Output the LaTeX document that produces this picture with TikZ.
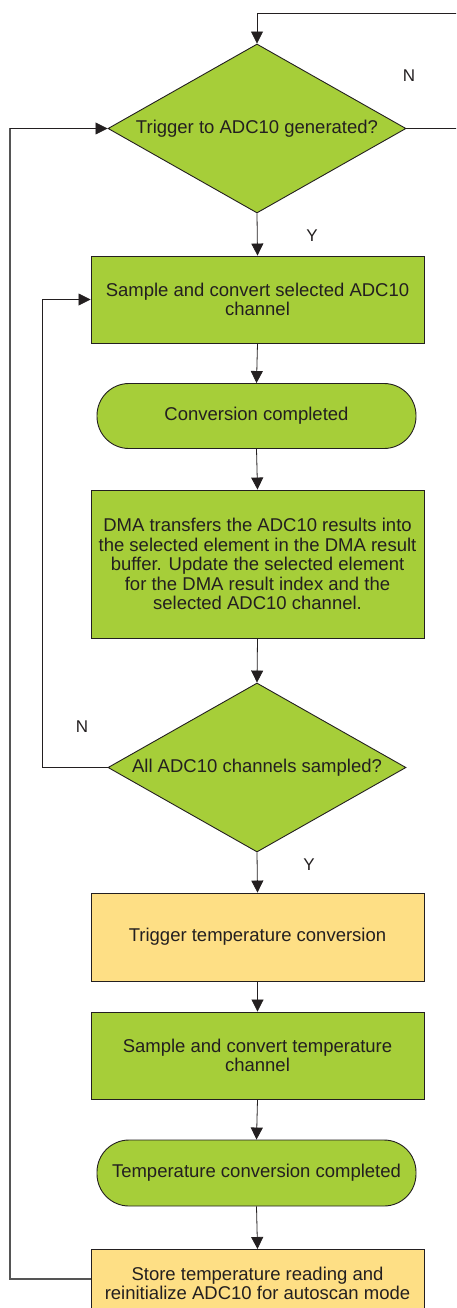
\documentclass[tikz,border=0pt]{standalone}
\usepackage{fontspec}
\setmainfont{Liberation Sans}
\usetikzlibrary{shapes.geometric,arrows.meta}
\definecolor{leaf}{HTML}{A6CE39}
\definecolor{sand}{HTML}{FEDF85}
\definecolor{ink}{HTML}{231F20}
\definecolor{loopgray}{HTML}{555555}
\tikzset{
  flowtext/.style={font=\fontsize{18.5}{19.5}\selectfont, text=ink, align=center},
  procbox/.style={flowtext, draw=ink, line width=0.9pt, fill=leaf,
    minimum width=333pt, inner sep=0pt},
  tempbox/.style={procbox, fill=sand},
  eventbox/.style={flowtext, draw=ink, line width=0.9pt, fill=leaf,
    minimum width=319pt, minimum height=65pt, rounded corners=32pt, inner sep=0pt},
  decision/.style={flowtext, diamond, draw=ink, line width=0.9pt, fill=leaf,
    minimum width=298pt, minimum height=169pt, aspect=1.763, inner sep=0pt},
  flow/.style={draw=ink, line width=0.8pt, -{Triangle[width=12pt,length=12pt]}},
  branch/.style={font=\fontsize{17}{17}\selectfont, text=ink},
}
\begin{document}
\begin{tikzpicture}[x=1pt, y=-1pt]
\useasboundingbox (0,0) rectangle (456,1308);
\clip (0,0) rectangle (456,1308);

% process steps
\node[decision] (trig) at (257,128.5) {Trigger to ADC10 generated?};
\node[procbox, minimum height=87pt] (samp) at (257.5,299.5)
  {Sample and convert selected ADC10\\channel};
\node[eventbox] (conv) at (256.5,416) {Conversion completed};
\node[procbox, minimum height=148pt] (dma) at (257.5,564)
  {DMA transfers the ADC10 results into\\the selected element in the DMA result\\buffer. Update the selected element\\for the DMA result index and the\\selected ADC10 channel.};
\node[decision] (all) at (257,767.5) {All ADC10 channels sampled?};
\node[tempbox, minimum height=88pt] (ttrig) at (257.5,937) {Trigger temperature conversion};
\node[procbox, minimum height=87pt] (tsamp) at (257.5,1055.5)
  {Sample and convert temperature\\channel};
\node[eventbox, minimum height=66pt] (tconv) at (256.5,1173) {Temperature conversion completed};
\node[tempbox, minimum height=68pt, anchor=north] (store) at (257.5,1249)
  {Store temperature reading and\\reinitialize ADC10 for autoscan mode};

% main path
\draw[flow] (trig.south) -- (samp.north);
\draw[flow] (samp.south) -- (conv.north);
\draw[flow] (conv.south) -- (dma.north);
\draw[flow] (dma.south) -- (all.north);
\draw[flow] (all.south) -- (ttrig.north);
\draw[flow] (ttrig.south) -- (tsamp.north);
\draw[flow] (tsamp.south) -- (tconv.north);
\draw[flow] (tconv.south) -- (store.north);

% wait loop on the trigger
\coordinate (waitR) at (470,128.5);
\coordinate (waitT) at (470,13);
\draw[flow] (trig.east) -- (waitR) -- (waitT) -| (trig.north);

% loop over the channels
\coordinate (chanL) at (42,767.5);
\draw[flow] (all.west) -- (chanL) |- (samp.west);

% back to waiting for the next trigger
\coordinate (backL) at (10,1279);
\coordinate (backT) at (10,128.5);
\draw[draw=loopgray, line width=1.3pt] (store.west |- backL) -- (backL) -- (backT);
\draw[flow] (backT) -- (trig.west);

% branch labels
\node[branch] (n1) at (409,76) {N};
\node[branch] (y1) at (312,236) {Y};
\node[branch] (n2) at (82,727) {N};
\node[branch] (y2) at (309,865) {Y};
\end{tikzpicture}
\end{document}
